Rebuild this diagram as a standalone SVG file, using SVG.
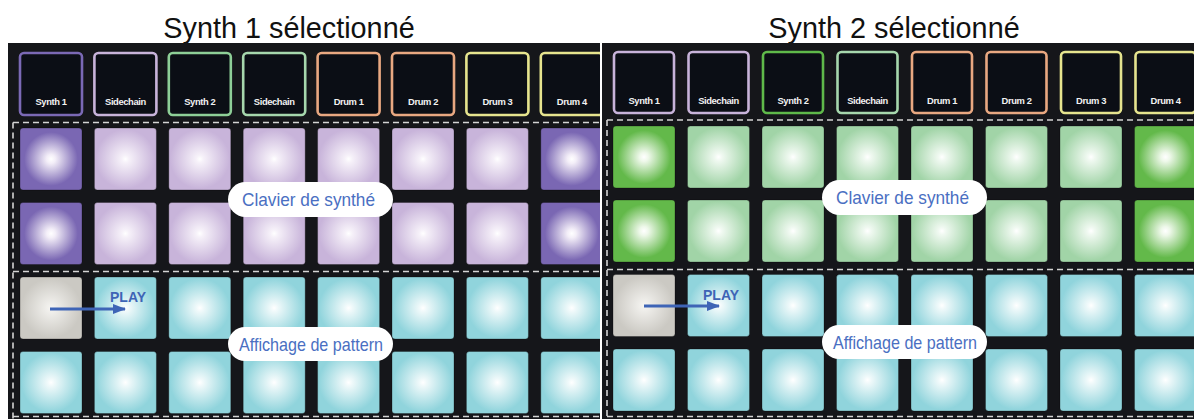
<svg xmlns="http://www.w3.org/2000/svg" width="1194" height="419" viewBox="0 0 1194 419">
<style>
.title{font-family:"Liberation Sans",Arial,sans-serif;font-size:28.8px;fill:#111;text-anchor:middle}
.panel{fill:#15161a}
.btn{fill:#0b0e15;stroke-width:2.6}
.blabel{font-family:"Liberation Sans",Arial,sans-serif;font-size:9.4px;font-weight:bold;fill:#f2f2f2;text-anchor:middle;letter-spacing:-0.4px}
.pad{stroke:#000;stroke-opacity:0.28;stroke-width:1}
.dash{fill:none;stroke:#d4d4d4;stroke-width:1.6;stroke-dasharray:6 4}
.pill{fill:#fff}
.ptext{font-family:"Liberation Sans",Arial,sans-serif;font-size:19px;fill:#4a6fc2;text-anchor:middle}
.play{font-family:"Liberation Sans",Arial,sans-serif;font-size:14px;font-weight:bold;fill:#3e64b6}
.arrow{stroke:#3e64b6;stroke-width:3;fill:none}
</style>
<defs>
<radialGradient id="gPurple" cx="0.5" cy="0.5" r="0.6"><stop offset="0" stop-color="#ffffff"/><stop offset="0.12" stop-color="#f3eef8"/><stop offset="0.72" stop-color="#7a67b3"/></radialGradient>
<radialGradient id="gLav" cx="0.5" cy="0.5" r="0.6"><stop offset="0" stop-color="#ffffff"/><stop offset="0.1" stop-color="#f6f1f9"/><stop offset="0.8" stop-color="#c8b4da"/></radialGradient>
<radialGradient id="gGreen" cx="0.5" cy="0.5" r="0.6"><stop offset="0" stop-color="#ffffff"/><stop offset="0.12" stop-color="#eef8ea"/><stop offset="0.72" stop-color="#63b94a"/></radialGradient>
<radialGradient id="gLGreen" cx="0.5" cy="0.5" r="0.6"><stop offset="0" stop-color="#ffffff"/><stop offset="0.1" stop-color="#f0f9f1"/><stop offset="0.8" stop-color="#a1d4a7"/></radialGradient>
<radialGradient id="gCyan" cx="0.5" cy="0.5" r="0.6"><stop offset="0" stop-color="#ffffff"/><stop offset="0.1" stop-color="#eff9fa"/><stop offset="0.8" stop-color="#90d4dc"/></radialGradient>
<radialGradient id="gGray" cx="0.5" cy="0.5" r="0.6"><stop offset="0" stop-color="#f6f5f2"/><stop offset="0.8" stop-color="#cbc9c3"/></radialGradient>
<clipPath id="clipL"><rect x="8" y="43" width="592" height="376"/></clipPath>
<clipPath id="clipR"><rect x="602" y="43" width="592" height="376"/></clipPath>
<marker id="ah" markerUnits="userSpaceOnUse" markerWidth="14" markerHeight="10" refX="12" refY="5" orient="auto"><path d="M0,0 L13,5 L0,10 Z" fill="#3e64b6"/></marker>
</defs>
<rect width="1194" height="419" fill="#fff"/>
<text class="title" x="289" y="38">Synth 1 sélectionné</text>
<text class="title" x="894" y="38">Synth 2 sélectionné</text>

<g id="panel-left" clip-path="url(#clipL)">
<rect class="panel" x="8" y="43" width="592" height="376"/>
<g id="left-buttons">
<g id="L-btn-synth1"><rect class="btn" x="20" y="53" width="62" height="62" rx="4" stroke="#7b69b5"/><text class="blabel" x="51" y="105">Synth 1</text></g>
<g id="L-btn-side1"><rect class="btn" x="94.4" y="53" width="62" height="62" rx="4" stroke="#c8b3da"/><text class="blabel" x="125.4" y="105">Sidechain</text></g>
<g id="L-btn-synth2"><rect class="btn" x="168.8" y="53" width="62" height="62" rx="4" stroke="#8ecf97"/><text class="blabel" x="199.8" y="105">Synth 2</text></g>
<g id="L-btn-side2"><rect class="btn" x="243.2" y="53" width="62" height="62" rx="4" stroke="#a6d7ad"/><text class="blabel" x="274.2" y="105">Sidechain</text></g>
<g id="L-btn-drum1"><rect class="btn" x="317.6" y="53" width="62" height="62" rx="4" stroke="#e9a881"/><text class="blabel" x="348.6" y="105">Drum 1</text></g>
<g id="L-btn-drum2"><rect class="btn" x="392" y="53" width="62" height="62" rx="4" stroke="#e9a881"/><text class="blabel" x="423" y="105">Drum 2</text></g>
<g id="L-btn-drum3"><rect class="btn" x="466.4" y="53" width="62" height="62" rx="4" stroke="#e6e48e"/><text class="blabel" x="497.4" y="105">Drum 3</text></g>
<g id="L-btn-drum4"><rect class="btn" x="540.8" y="53" width="62" height="62" rx="4" stroke="#e6e48e"/><text class="blabel" x="571.8" y="105">Drum 4</text></g>
</g>
<g id="left-pads">
<rect class="pad" x="20" y="128" width="62" height="62" rx="3" fill="url(#gPurple)"/>
<rect class="pad" x="94.4" y="128" width="62" height="62" rx="3" fill="url(#gLav)"/>
<rect class="pad" x="168.8" y="128" width="62" height="62" rx="3" fill="url(#gLav)"/>
<rect class="pad" x="243.2" y="128" width="62" height="62" rx="3" fill="url(#gLav)"/>
<rect class="pad" x="317.6" y="128" width="62" height="62" rx="3" fill="url(#gLav)"/>
<rect class="pad" x="392" y="128" width="62" height="62" rx="3" fill="url(#gLav)"/>
<rect class="pad" x="466.4" y="128" width="62" height="62" rx="3" fill="url(#gLav)"/>
<rect class="pad" x="540.8" y="128" width="62" height="62" rx="3" fill="url(#gPurple)"/>
<rect class="pad" x="20" y="202.5" width="62" height="62" rx="3" fill="url(#gPurple)"/>
<rect class="pad" x="94.4" y="202.5" width="62" height="62" rx="3" fill="url(#gLav)"/>
<rect class="pad" x="168.8" y="202.5" width="62" height="62" rx="3" fill="url(#gLav)"/>
<rect class="pad" x="243.2" y="202.5" width="62" height="62" rx="3" fill="url(#gLav)"/>
<rect class="pad" x="317.6" y="202.5" width="62" height="62" rx="3" fill="url(#gLav)"/>
<rect class="pad" x="392" y="202.5" width="62" height="62" rx="3" fill="url(#gLav)"/>
<rect class="pad" x="466.4" y="202.5" width="62" height="62" rx="3" fill="url(#gLav)"/>
<rect class="pad" x="540.8" y="202.5" width="62" height="62" rx="3" fill="url(#gPurple)"/>
<rect class="pad" x="20" y="277" width="62" height="62" rx="3" fill="url(#gGray)"/>
<rect class="pad" x="94.4" y="277" width="62" height="62" rx="3" fill="url(#gCyan)"/>
<rect class="pad" x="168.8" y="277" width="62" height="62" rx="3" fill="url(#gCyan)"/>
<rect class="pad" x="243.2" y="277" width="62" height="62" rx="3" fill="url(#gCyan)"/>
<rect class="pad" x="317.6" y="277" width="62" height="62" rx="3" fill="url(#gCyan)"/>
<rect class="pad" x="392" y="277" width="62" height="62" rx="3" fill="url(#gCyan)"/>
<rect class="pad" x="466.4" y="277" width="62" height="62" rx="3" fill="url(#gCyan)"/>
<rect class="pad" x="540.8" y="277" width="62" height="62" rx="3" fill="url(#gCyan)"/>
<rect class="pad" x="20" y="351.5" width="62" height="62" rx="3" fill="url(#gCyan)"/>
<rect class="pad" x="94.4" y="351.5" width="62" height="62" rx="3" fill="url(#gCyan)"/>
<rect class="pad" x="168.8" y="351.5" width="62" height="62" rx="3" fill="url(#gCyan)"/>
<rect class="pad" x="243.2" y="351.5" width="62" height="62" rx="3" fill="url(#gCyan)"/>
<rect class="pad" x="317.6" y="351.5" width="62" height="62" rx="3" fill="url(#gCyan)"/>
<rect class="pad" x="392" y="351.5" width="62" height="62" rx="3" fill="url(#gCyan)"/>
<rect class="pad" x="466.4" y="351.5" width="62" height="62" rx="3" fill="url(#gCyan)"/>
<rect class="pad" x="540.8" y="351.5" width="62" height="62" rx="3" fill="url(#gCyan)"/>
</g>
<g id="left-dashes">
<path class="dash" d="M13,122.5 H610 M13,271.5 H610 M13,416.5 H610 M13,122.5 V419"/>
</g>
</g>

<g id="panel-right" clip-path="url(#clipR)">
<rect class="panel" x="602" y="43" width="592" height="376"/>
<g id="right-buttons">
<g id="R-btn-synth1"><rect class="btn" x="614" y="52" width="60" height="61" rx="4" stroke="#c8b3da"/><text class="blabel" x="644" y="104">Synth 1</text></g>
<g id="R-btn-side1"><rect class="btn" x="688.5" y="52" width="60" height="61" rx="4" stroke="#c8b3da"/><text class="blabel" x="718.5" y="104">Sidechain</text></g>
<g id="R-btn-synth2"><rect class="btn" x="763" y="52" width="60" height="61" rx="4" stroke="#5fb94a"/><text class="blabel" x="793" y="104">Synth 2</text></g>
<g id="R-btn-side2"><rect class="btn" x="837.5" y="52" width="60" height="61" rx="4" stroke="#a6d7ad"/><text class="blabel" x="867.5" y="104">Sidechain</text></g>
<g id="R-btn-drum1"><rect class="btn" x="912" y="52" width="60" height="61" rx="4" stroke="#e9a881"/><text class="blabel" x="942" y="104">Drum 1</text></g>
<g id="R-btn-drum2"><rect class="btn" x="986.5" y="52" width="60" height="61" rx="4" stroke="#e9a881"/><text class="blabel" x="1016.5" y="104">Drum 2</text></g>
<g id="R-btn-drum3"><rect class="btn" x="1061" y="52" width="60" height="61" rx="4" stroke="#e6e48e"/><text class="blabel" x="1091" y="104">Drum 3</text></g>
<g id="R-btn-drum4"><rect class="btn" x="1135.5" y="52" width="60" height="61" rx="4" stroke="#e6e48e"/><text class="blabel" x="1165.5" y="104">Drum 4</text></g>
</g>
<g id="right-pads">
<rect class="pad" x="613" y="126" width="62" height="62" rx="3" fill="url(#gGreen)"/>
<rect class="pad" x="687.5" y="126" width="62" height="62" rx="3" fill="url(#gLGreen)"/>
<rect class="pad" x="762" y="126" width="62" height="62" rx="3" fill="url(#gLGreen)"/>
<rect class="pad" x="836.5" y="126" width="62" height="62" rx="3" fill="url(#gLGreen)"/>
<rect class="pad" x="911" y="126" width="62" height="62" rx="3" fill="url(#gLGreen)"/>
<rect class="pad" x="985.5" y="126" width="62" height="62" rx="3" fill="url(#gLGreen)"/>
<rect class="pad" x="1060" y="126" width="62" height="62" rx="3" fill="url(#gLGreen)"/>
<rect class="pad" x="1134.5" y="126" width="62" height="62" rx="3" fill="url(#gGreen)"/>
<rect class="pad" x="613" y="200" width="62" height="62" rx="3" fill="url(#gGreen)"/>
<rect class="pad" x="687.5" y="200" width="62" height="62" rx="3" fill="url(#gLGreen)"/>
<rect class="pad" x="762" y="200" width="62" height="62" rx="3" fill="url(#gLGreen)"/>
<rect class="pad" x="836.5" y="200" width="62" height="62" rx="3" fill="url(#gLGreen)"/>
<rect class="pad" x="911" y="200" width="62" height="62" rx="3" fill="url(#gLGreen)"/>
<rect class="pad" x="985.5" y="200" width="62" height="62" rx="3" fill="url(#gLGreen)"/>
<rect class="pad" x="1060" y="200" width="62" height="62" rx="3" fill="url(#gLGreen)"/>
<rect class="pad" x="1134.5" y="200" width="62" height="62" rx="3" fill="url(#gGreen)"/>
<rect class="pad" x="613" y="274.5" width="62" height="62" rx="3" fill="url(#gGray)"/>
<rect class="pad" x="687.5" y="274.5" width="62" height="62" rx="3" fill="url(#gCyan)"/>
<rect class="pad" x="762" y="274.5" width="62" height="62" rx="3" fill="url(#gCyan)"/>
<rect class="pad" x="836.5" y="274.5" width="62" height="62" rx="3" fill="url(#gCyan)"/>
<rect class="pad" x="911" y="274.5" width="62" height="62" rx="3" fill="url(#gCyan)"/>
<rect class="pad" x="985.5" y="274.5" width="62" height="62" rx="3" fill="url(#gCyan)"/>
<rect class="pad" x="1060" y="274.5" width="62" height="62" rx="3" fill="url(#gCyan)"/>
<rect class="pad" x="1134.5" y="274.5" width="62" height="62" rx="3" fill="url(#gCyan)"/>
<rect class="pad" x="613" y="349" width="62" height="62" rx="3" fill="url(#gCyan)"/>
<rect class="pad" x="687.5" y="349" width="62" height="62" rx="3" fill="url(#gCyan)"/>
<rect class="pad" x="762" y="349" width="62" height="62" rx="3" fill="url(#gCyan)"/>
<rect class="pad" x="836.5" y="349" width="62" height="62" rx="3" fill="url(#gCyan)"/>
<rect class="pad" x="911" y="349" width="62" height="62" rx="3" fill="url(#gCyan)"/>
<rect class="pad" x="985.5" y="349" width="62" height="62" rx="3" fill="url(#gCyan)"/>
<rect class="pad" x="1060" y="349" width="62" height="62" rx="3" fill="url(#gCyan)"/>
<rect class="pad" x="1134.5" y="349" width="62" height="62" rx="3" fill="url(#gCyan)"/>
</g>
<g id="right-dashes">
<path class="dash" d="M607,120 H1200 M607,269.5 H1200 M607,416.5 H1200 M607,120 V419"/>
</g>
</g>

<g id="connectors">
<line class="arrow" x1="50" y1="309" x2="125" y2="309" marker-end="url(#ah)"/>
<line class="arrow" x1="644" y1="306" x2="719" y2="306" marker-end="url(#ah)"/>
</g>

<g id="L-play"><text class="play" x="110" y="302">PLAY</text></g>
<g id="R-play"><text class="play" x="703" y="300">PLAY</text></g>

<g id="L-clavier"><rect class="pill" x="228" y="182" width="165" height="35" rx="17.5"/><text class="ptext" x="308.5" y="205.5" textLength="133" lengthAdjust="spacingAndGlyphs">Clavier de synthé</text></g>
<g id="L-affichage"><rect class="pill" x="228" y="327" width="165" height="34" rx="17"/><text class="ptext" x="311" y="350.5" textLength="144" lengthAdjust="spacingAndGlyphs">Affichage de pattern</text></g>
<g id="R-clavier"><rect class="pill" x="822" y="180" width="165" height="35" rx="17.5"/><text class="ptext" x="902.5" y="203.5" textLength="133" lengthAdjust="spacingAndGlyphs">Clavier de synthé</text></g>
<g id="R-affichage"><rect class="pill" x="822" y="325" width="165" height="34" rx="17"/><text class="ptext" x="905" y="348.5" textLength="144" lengthAdjust="spacingAndGlyphs">Affichage de pattern</text></g>
</svg>
